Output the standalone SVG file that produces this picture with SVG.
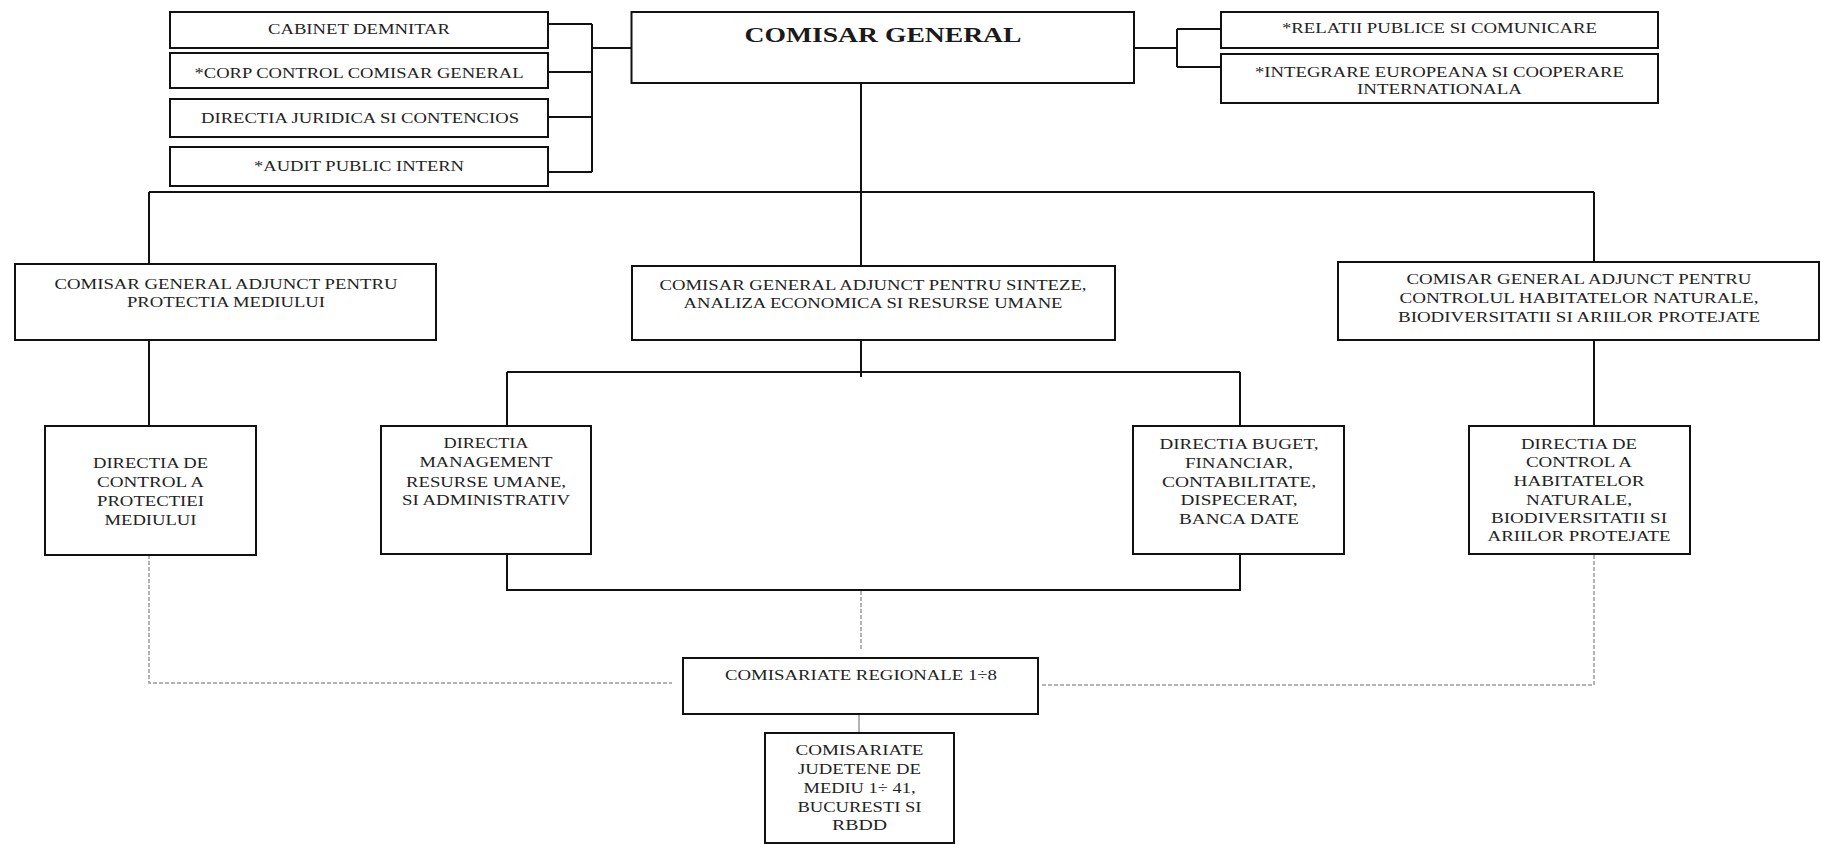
<svg xmlns="http://www.w3.org/2000/svg" width="1821" height="844" viewBox="0 0 1821 844">
<style>
.box{fill:#fff;stroke:#111;stroke-width:2}
.t{font-family:"Liberation Serif","Times New Roman",serif;font-size:14px;fill:#222;text-anchor:middle}
.title{font-size:22px;font-weight:bold;fill:#1a1a1a}
.conn{fill:none;stroke:#111;stroke-width:2}
.dash{fill:none;stroke:#9a9a9a;stroke-width:1.5;stroke-dasharray:4 2}
.thin{fill:none;stroke:#9a9a9a;stroke-width:1.5}
</style>
<rect width="1821" height="844" fill="#fff"/>
<g id="connectors">
<path class="conn" d="M548,24H592M548,72H592M548,117H592M548,172H592M592,24V172M592,48H631.5"/>
<path class="conn" d="M1134,48H1177M1177,29V67M1177,29H1221M1177,67H1221"/>
<path class="conn" d="M861,83V266M149,192H1594M149,192V264M1594,192V262"/>
<path class="conn" d="M149,340V426M1594,340V426"/>
<path class="conn" d="M861,340V377M507,372H1240M507,372V426M1240,372V426"/>
<path class="conn" d="M507,554V590H1240V554"/>
<path class="dash" d="M149,555V683H672"/>
<path class="dash" d="M1594,555V685H1042"/>
<path class="dash" d="M861,591V650"/>
<path class="thin" d="M859,714V733"/>
</g>
<g id="cabinet"><rect class="box" x="170" y="12" width="378" height="36"/>
<text class="t" x="359" y="34" textLength="182" lengthAdjust="spacingAndGlyphs">CABINET DEMNITAR</text></g>
<g id="corp"><rect class="box" x="170" y="53" width="378" height="35"/>
<text class="t" x="359" y="78" textLength="329" lengthAdjust="spacingAndGlyphs">*CORP CONTROL COMISAR GENERAL</text></g>
<g id="juridica"><rect class="box" x="170" y="99" width="378" height="38"/>
<text class="t" x="360" y="123" textLength="318" lengthAdjust="spacingAndGlyphs">DIRECTIA JURIDICA SI CONTENCIOS</text></g>
<g id="audit"><rect class="box" x="170" y="147" width="378" height="39"/>
<text class="t" x="359" y="171" textLength="210" lengthAdjust="spacingAndGlyphs">*AUDIT PUBLIC INTERN</text></g>
<g id="comisar-general"><rect class="box" x="631.5" y="12" width="502.5" height="71"/>
<text class="t title" x="883" y="42" textLength="277" lengthAdjust="spacingAndGlyphs">COMISAR GENERAL</text></g>
<g id="relatii"><rect class="box" x="1221" y="12" width="437" height="36"/>
<text class="t" x="1439.5" y="33" textLength="315" lengthAdjust="spacingAndGlyphs">*RELATII PUBLICE SI COMUNICARE</text></g>
<g id="integrare"><rect class="box" x="1221" y="54" width="437" height="49"/>
<text class="t" x="1439.5" y="77" textLength="369" lengthAdjust="spacingAndGlyphs">*INTEGRARE EUROPEANA SI COOPERARE</text>
<text class="t" x="1439.5" y="94" textLength="165" lengthAdjust="spacingAndGlyphs">INTERNATIONALA</text></g>
<g id="adjunct-protectie"><rect class="box" x="15" y="264" width="421" height="76"/>
<text class="t" x="226" y="289" textLength="343" lengthAdjust="spacingAndGlyphs">COMISAR GENERAL ADJUNCT PENTRU</text>
<text class="t" x="226" y="307" textLength="198" lengthAdjust="spacingAndGlyphs">PROTECTIA MEDIULUI</text></g>
<g id="adjunct-sinteze"><rect class="box" x="632" y="266" width="483" height="74"/>
<text class="t" x="873" y="290" textLength="427" lengthAdjust="spacingAndGlyphs">COMISAR GENERAL ADJUNCT PENTRU SINTEZE,</text>
<text class="t" x="873" y="308" textLength="379" lengthAdjust="spacingAndGlyphs">ANALIZA ECONOMICA SI RESURSE UMANE</text></g>
<g id="adjunct-controlul"><rect class="box" x="1338" y="262" width="481" height="78"/>
<text class="t" x="1579" y="284" textLength="345" lengthAdjust="spacingAndGlyphs">COMISAR GENERAL ADJUNCT PENTRU</text>
<text class="t" x="1579" y="303" textLength="359" lengthAdjust="spacingAndGlyphs">CONTROLUL HABITATELOR NATURALE,</text>
<text class="t" x="1579" y="322" textLength="362" lengthAdjust="spacingAndGlyphs">BIODIVERSITATII SI ARIILOR PROTEJATE</text></g>
<g id="directia-protectie"><rect class="box" x="45" y="426" width="211" height="129"/>
<text class="t" x="150.5" y="468" textLength="115" lengthAdjust="spacingAndGlyphs">DIRECTIA DE</text>
<text class="t" x="150.5" y="487" textLength="107" lengthAdjust="spacingAndGlyphs">CONTROL A</text>
<text class="t" x="150.5" y="506" textLength="107" lengthAdjust="spacingAndGlyphs">PROTECTIEI</text>
<text class="t" x="150.5" y="525" textLength="92" lengthAdjust="spacingAndGlyphs">MEDIULUI</text></g>
<g id="directia-management"><rect class="box" x="381" y="426" width="210" height="128"/>
<text class="t" x="486" y="448" textLength="85" lengthAdjust="spacingAndGlyphs">DIRECTIA</text>
<text class="t" x="486" y="467" textLength="133" lengthAdjust="spacingAndGlyphs">MANAGEMENT</text>
<text class="t" x="486" y="486.5" textLength="160" lengthAdjust="spacingAndGlyphs">RESURSE UMANE,</text>
<text class="t" x="486" y="505" textLength="168" lengthAdjust="spacingAndGlyphs">SI ADMINISTRATIV</text></g>
<g id="directia-buget"><rect class="box" x="1133" y="426" width="211" height="128"/>
<text class="t" x="1239" y="449" textLength="159" lengthAdjust="spacingAndGlyphs">DIRECTIA BUGET,</text>
<text class="t" x="1239" y="467.5" textLength="108" lengthAdjust="spacingAndGlyphs">FINANCIAR,</text>
<text class="t" x="1239" y="486.5" textLength="154" lengthAdjust="spacingAndGlyphs">CONTABILITATE,</text>
<text class="t" x="1239" y="505" textLength="117" lengthAdjust="spacingAndGlyphs">DISPECERAT,</text>
<text class="t" x="1239" y="524" textLength="120" lengthAdjust="spacingAndGlyphs">BANCA DATE</text></g>
<g id="directia-habitate"><rect class="box" x="1469" y="426" width="221" height="128"/>
<text class="t" x="1579" y="448.5" textLength="116" lengthAdjust="spacingAndGlyphs">DIRECTIA DE</text>
<text class="t" x="1579" y="467" textLength="106" lengthAdjust="spacingAndGlyphs">CONTROL A</text>
<text class="t" x="1579" y="486" textLength="131" lengthAdjust="spacingAndGlyphs">HABITATELOR</text>
<text class="t" x="1579" y="504.5" textLength="106" lengthAdjust="spacingAndGlyphs">NATURALE,</text>
<text class="t" x="1579" y="522.5" textLength="176" lengthAdjust="spacingAndGlyphs">BIODIVERSITATII SI</text>
<text class="t" x="1579" y="540.5" textLength="183" lengthAdjust="spacingAndGlyphs">ARIILOR PROTEJATE</text></g>
<g id="comisariate-regionale"><rect class="box" x="683" y="658" width="355" height="56"/>
<text class="t" x="861" y="679.5" textLength="272" lengthAdjust="spacingAndGlyphs">COMISARIATE REGIONALE 1÷8</text></g>
<g id="comisariate-judetene"><rect class="box" x="765" y="733" width="189" height="110"/>
<text class="t" x="859.5" y="755" textLength="128" lengthAdjust="spacingAndGlyphs">COMISARIATE</text>
<text class="t" x="859.5" y="773.5" textLength="123" lengthAdjust="spacingAndGlyphs">JUDETENE DE</text>
<text class="t" x="859.5" y="793" textLength="112" lengthAdjust="spacingAndGlyphs">MEDIU 1÷ 41,</text>
<text class="t" x="859.5" y="811.5" textLength="124" lengthAdjust="spacingAndGlyphs">BUCURESTI SI</text>
<text class="t" x="859.5" y="829.5" textLength="55" lengthAdjust="spacingAndGlyphs">RBDD</text></g>
</svg>
